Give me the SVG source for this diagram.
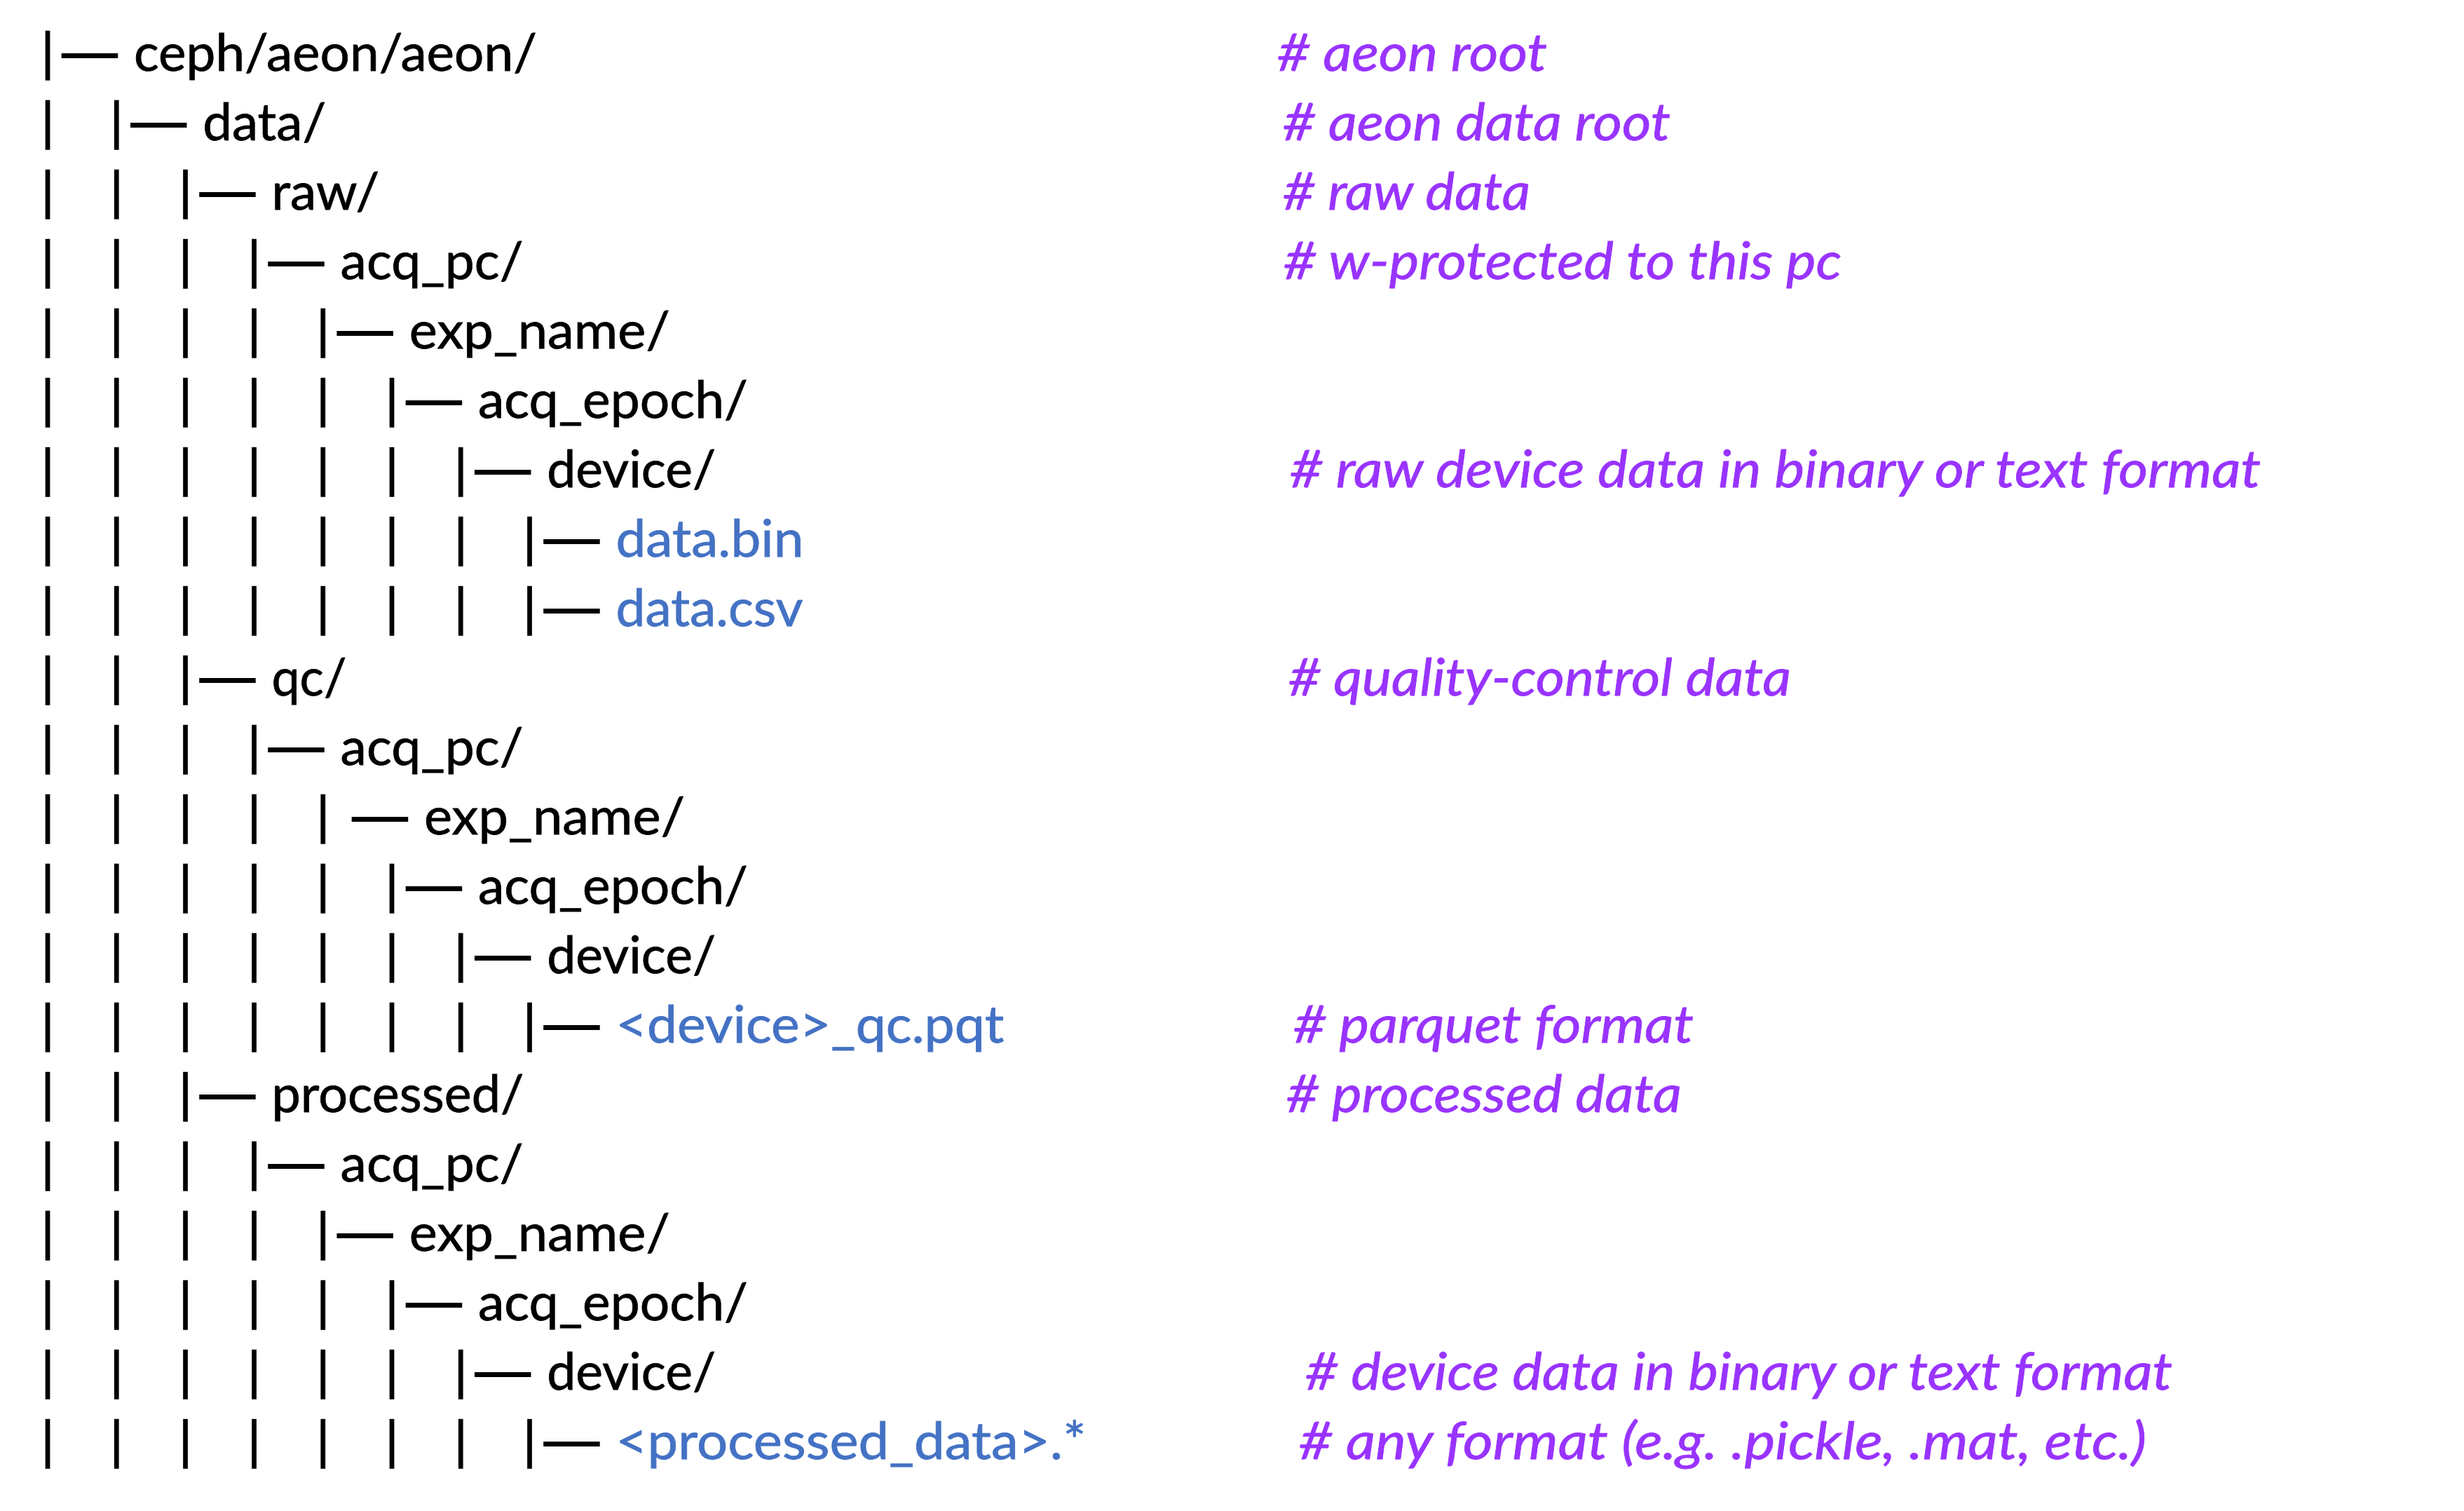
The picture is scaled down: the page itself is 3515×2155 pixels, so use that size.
<svg xmlns="http://www.w3.org/2000/svg" width="3515" height="2155" viewBox="0 0 3515 2155">
<style>
text{font-family:Lato,"Carlito","Liberation Sans",sans-serif;font-size:74px;fill:#000;stroke:#000;stroke-width:0.8px}
.bar{text-anchor:middle;stroke-width:1.6px}
.dash{stroke-width:2.2px}
.blue{fill:#4472C4;stroke:#4472C4}
.cm{font-style:italic;fill:#9933FF;stroke:#9933FF}
</style>
<rect width="3515" height="2155" fill="#fff"/>
<g id="connectors">
<text class="bar" x="68" y="101">|</text>
<text class="dash" x="82" y="101" textLength="92" lengthAdjust="spacingAndGlyphs">—</text>
<text class="bar" x="68 166.2" y="200">||</text>
<text class="dash" x="180.2" y="200" textLength="92" lengthAdjust="spacingAndGlyphs">—</text>
<text class="bar" x="68 166.2 264.4" y="299">|||</text>
<text class="dash" x="278.4" y="299" textLength="92" lengthAdjust="spacingAndGlyphs">—</text>
<text class="bar" x="68 166.2 264.4 362.6" y="398">||||</text>
<text class="dash" x="376.6" y="398" textLength="92" lengthAdjust="spacingAndGlyphs">—</text>
<text class="bar" x="68 166.2 264.4 362.6 460.8" y="497">|||||</text>
<text class="dash" x="474.8" y="497" textLength="92" lengthAdjust="spacingAndGlyphs">—</text>
<text class="bar" x="68 166.2 264.4 362.6 460.8 559" y="596">||||||</text>
<text class="dash" x="573" y="596" textLength="92" lengthAdjust="spacingAndGlyphs">—</text>
<text class="bar" x="68 166.2 264.4 362.6 460.8 559 657.2" y="695">|||||||</text>
<text class="dash" x="671.2" y="695" textLength="92" lengthAdjust="spacingAndGlyphs">—</text>
<text class="bar" x="68 166.2 264.4 362.6 460.8 559 657.2 755.4" y="794">||||||||</text>
<text class="dash" x="769.4" y="794" textLength="92" lengthAdjust="spacingAndGlyphs">—</text>
<text class="bar" x="68 166.2 264.4 362.6 460.8 559 657.2 755.4" y="893">||||||||</text>
<text class="dash" x="769.4" y="893" textLength="92" lengthAdjust="spacingAndGlyphs">—</text>
<text class="bar" x="68 166.2 264.4" y="992">|||</text>
<text class="dash" x="278.4" y="992" textLength="92" lengthAdjust="spacingAndGlyphs">—</text>
<text class="bar" x="68 166.2 264.4 362.6" y="1091">||||</text>
<text class="dash" x="376.6" y="1091" textLength="92" lengthAdjust="spacingAndGlyphs">—</text>
<text class="bar" x="68 166.2 264.4 362.6 460.8" y="1190">|||||</text>
<text class="dash" x="496" y="1190" textLength="92" lengthAdjust="spacingAndGlyphs">—</text>
<text class="bar" x="68 166.2 264.4 362.6 460.8 559" y="1289">||||||</text>
<text class="dash" x="573" y="1289" textLength="92" lengthAdjust="spacingAndGlyphs">—</text>
<text class="bar" x="68 166.2 264.4 362.6 460.8 559 657.2" y="1388">|||||||</text>
<text class="dash" x="671.2" y="1388" textLength="92" lengthAdjust="spacingAndGlyphs">—</text>
<text class="bar" x="68 166.2 264.4 362.6 460.8 559 657.2 755.4" y="1487">||||||||</text>
<text class="dash" x="769.4" y="1487" textLength="92" lengthAdjust="spacingAndGlyphs">—</text>
<text class="bar" x="68 166.2 264.4" y="1586">|||</text>
<text class="dash" x="278.4" y="1586" textLength="92" lengthAdjust="spacingAndGlyphs">—</text>
<text class="bar" x="68 166.2 264.4 362.6" y="1685">||||</text>
<text class="dash" x="376.6" y="1685" textLength="92" lengthAdjust="spacingAndGlyphs">—</text>
<text class="bar" x="68 166.2 264.4 362.6 460.8" y="1784">|||||</text>
<text class="dash" x="474.8" y="1784" textLength="92" lengthAdjust="spacingAndGlyphs">—</text>
<text class="bar" x="68 166.2 264.4 362.6 460.8 559" y="1883">||||||</text>
<text class="dash" x="573" y="1883" textLength="92" lengthAdjust="spacingAndGlyphs">—</text>
<text class="bar" x="68 166.2 264.4 362.6 460.8 559 657.2" y="1982">|||||||</text>
<text class="dash" x="671.2" y="1982" textLength="92" lengthAdjust="spacingAndGlyphs">—</text>
<text class="bar" x="68 166.2 264.4 362.6 460.8 559 657.2 755.4" y="2081">||||||||</text>
<text class="dash" x="769.4" y="2081" textLength="92" lengthAdjust="spacingAndGlyphs">—</text>
</g>
<g id="n01"><text x="191" y="101" textLength="575" lengthAdjust="spacingAndGlyphs">ceph/aeon/aeon/</text><text class="cm" x="1822" y="101" textLength="385" lengthAdjust="spacingAndGlyphs"># aeon root</text></g>
<g id="n02"><text x="289.2" y="200" textLength="176" lengthAdjust="spacingAndGlyphs">data/</text><text class="cm" x="1830" y="200" textLength="553" lengthAdjust="spacingAndGlyphs"># aeon data root</text></g>
<g id="n03"><text x="387.4" y="299" textLength="154" lengthAdjust="spacingAndGlyphs">raw/</text><text class="cm" x="1830" y="299" textLength="353" lengthAdjust="spacingAndGlyphs"># raw data</text></g>
<g id="n04"><text x="485.6" y="398" textLength="261" lengthAdjust="spacingAndGlyphs">acq_pc/</text><text class="cm" x="1831" y="398" textLength="796" lengthAdjust="spacingAndGlyphs"># w-protected to this pc</text></g>
<g id="n05"><text x="583.8" y="497" textLength="372" lengthAdjust="spacingAndGlyphs">exp_name/</text></g>
<g id="n06"><text x="682" y="596" textLength="385" lengthAdjust="spacingAndGlyphs">acq_epoch/</text></g>
<g id="n07"><text x="780.2" y="695" textLength="241" lengthAdjust="spacingAndGlyphs">device/</text><text class="cm" x="1840" y="695" textLength="1385" lengthAdjust="spacingAndGlyphs"># raw device data in binary or text format</text></g>
<g id="n08"><text class="blue" x="878.4" y="794" textLength="268" lengthAdjust="spacingAndGlyphs">data.bin</text></g>
<g id="n09"><text class="blue" x="878.4" y="893" textLength="267" lengthAdjust="spacingAndGlyphs">data.csv</text></g>
<g id="n10"><text x="387.4" y="992" textLength="107" lengthAdjust="spacingAndGlyphs">qc/</text><text class="cm" x="1838" y="992" textLength="717" lengthAdjust="spacingAndGlyphs"># quality-control data</text></g>
<g id="n11"><text x="485.6" y="1091" textLength="261" lengthAdjust="spacingAndGlyphs">acq_pc/</text></g>
<g id="n12"><text x="605" y="1190" textLength="372" lengthAdjust="spacingAndGlyphs">exp_name/</text></g>
<g id="n13"><text x="682" y="1289" textLength="385" lengthAdjust="spacingAndGlyphs">acq_epoch/</text></g>
<g id="n14"><text x="780.2" y="1388" textLength="241" lengthAdjust="spacingAndGlyphs">device/</text></g>
<g id="n15"><text class="blue" x="878.4" y="1487" textLength="554" lengthAdjust="spacingAndGlyphs">&lt;device&gt;_qc.pqt</text><text class="cm" x="1845" y="1487" textLength="571" lengthAdjust="spacingAndGlyphs"># parquet format</text></g>
<g id="n16"><text x="387.4" y="1586" textLength="360" lengthAdjust="spacingAndGlyphs">processed/</text><text class="cm" x="1835" y="1586" textLength="564" lengthAdjust="spacingAndGlyphs"># processed data</text></g>
<g id="n17"><text x="485.6" y="1685" textLength="261" lengthAdjust="spacingAndGlyphs">acq_pc/</text></g>
<g id="n18"><text x="583.8" y="1784" textLength="372" lengthAdjust="spacingAndGlyphs">exp_name/</text></g>
<g id="n19"><text x="682" y="1883" textLength="385" lengthAdjust="spacingAndGlyphs">acq_epoch/</text></g>
<g id="n20"><text x="780.2" y="1982" textLength="241" lengthAdjust="spacingAndGlyphs">device/</text><text class="cm" x="1862" y="1982" textLength="1237" lengthAdjust="spacingAndGlyphs"># device data in binary or text format</text></g>
<g id="n21"><text class="blue" x="878.4" y="2081" textLength="671" lengthAdjust="spacingAndGlyphs">&lt;processed_data&gt;.*</text><text class="cm" x="1853" y="2081" textLength="1209" lengthAdjust="spacingAndGlyphs"># any format (e.g. .pickle, .mat, etc.)</text></g>
</svg>
